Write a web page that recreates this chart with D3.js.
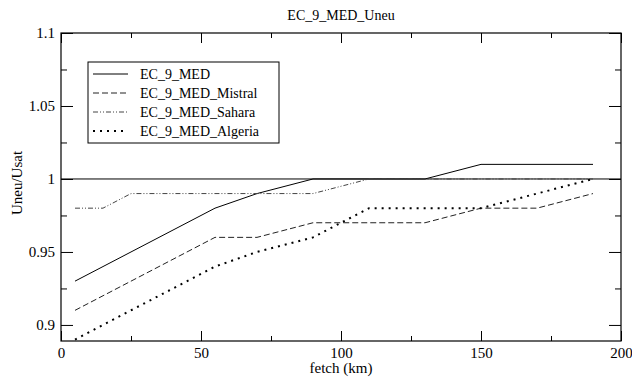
<!DOCTYPE html>
<html>
<head>
<meta charset="utf-8">
<script src="https://cdn.jsdelivr.net/npm/d3@7"></script>
<style>
  body { margin: 0; background: #fff; }
</style>
</head>
<body>
<div id="chart"></div>
<script>
const seriesNames = ["EC_9_MED", "EC_9_MED_Mistral", "EC_9_MED_Sahara", "EC_9_MED_Algeria"];
const medPts = [[5, 0.93], [55, 0.98], [70, 0.99], [90, 1.0], [130, 1.0], [150, 1.01], [190, 1.01]];
const mistralPts = [[5, 0.91], [55, 0.96], [70, 0.96], [90, 0.97], [130, 0.97], [150, 0.98], [170, 0.98], [190, 0.99]];
const saharaPts = [[5, 0.98], [15, 0.98], [25, 0.99], [90, 0.99], [110, 1.0], [190, 1.0]];
const algeriaPts = [[5, 0.89], [55, 0.94], [70, 0.95], [90, 0.96], [100, 0.97], [110, 0.98], [150, 0.98], [190, 1.0]];
const xTicks = [0, 50, 100, 150, 200];
const yTicks = [0.9, 0.95, 1, 1.05, 1.1];
const refValue = 1;

const FONT = "'Liberation Serif'";
const width = 632, height = 380;
const margin = { top: 33, right: 11, bottom: 39, left: 61 };
const w = width - margin.left - margin.right;
const h = height - margin.top - margin.bottom;

const svg = d3.select("#chart").append("svg")
  .attr("width", width)
  .attr("height", height);

const g = svg.append("g")
  .attr("transform", "translate(" + margin.left + "," + margin.top + ")");

const x = d3.scaleLinear().domain([0, 200]).range([0, w]);
const y = d3.scaleLinear().domain([0.889, 1.1]).range([h, 0]);

// minor ticks
const xMinor = [25, 75, 125, 175];
const yMinor = [0.925, 0.975, 1.025, 1.075];

g.append("g")
  .attr("transform", "translate(0," + h + ")")
  .call(d3.axisBottom(x).tickValues(xTicks).tickSize(-10).tickPadding(6).tickFormat(d3.format("d")))
  .call(a => a.select(".domain").remove());
g.append("g")
  .attr("transform", "translate(0," + h + ")")
  .call(d3.axisBottom(x).tickValues(xMinor).tickSize(-5).tickFormat(""))
  .call(a => a.select(".domain").remove());
g.append("g")
  .call(d3.axisTop(x).tickValues(xTicks).tickSize(-10).tickFormat(""))
  .call(a => a.select(".domain").remove());
g.append("g")
  .call(d3.axisTop(x).tickValues(xMinor).tickSize(-5).tickFormat(""))
  .call(a => a.select(".domain").remove());

g.append("g")
  .call(d3.axisLeft(y).tickValues(yTicks).tickSize(-12).tickPadding(6).tickFormat(d => String(+d.toFixed(2))))
  .call(a => a.select(".domain").remove());
g.append("g")
  .call(d3.axisLeft(y).tickValues(yMinor).tickSize(-6).tickFormat(""))
  .call(a => a.select(".domain").remove());
g.append("g")
  .attr("transform", "translate(" + w + ",0)")
  .call(d3.axisRight(y).tickValues(yTicks).tickSize(-12).tickFormat(""))
  .call(a => a.select(".domain").remove());
g.append("g")
  .attr("transform", "translate(" + w + ",0)")
  .call(d3.axisRight(y).tickValues(yMinor).tickSize(-6).tickFormat(""))
  .call(a => a.select(".domain").remove());

g.selectAll(".tick line").attr("stroke", "#000");
g.selectAll(".tick text").attr("font-size", 15).style("font-family", FONT).attr("fill", "#000");

// frame
g.append("rect")
  .attr("x", 0).attr("y", 0).attr("width", w).attr("height", h)
  .attr("fill", "none").attr("stroke", "#000").attr("stroke-width", 1.2);

// reference line
g.append("line")
  .attr("x1", 0).attr("x2", w)
  .attr("y1", y(refValue)).attr("y2", y(refValue))
  .attr("stroke", "#000").attr("stroke-width", 1);

const styles = [
  { dash: null, width: 1, color: "#000" },
  { dash: "6,3", width: 1, color: "#222" },
  { dash: "5,2,1,2,1,2", width: 1, color: "#444" },
  { dash: "2,5", width: 2, color: "#000" }
];
const allSeries = [medPts, mistralPts, saharaPts, algeriaPts];

const line = d3.line().x(d => x(d[0])).y(d => y(d[1]));

allSeries.forEach((pts, i) => {
  g.append("path")
    .datum(pts)
    .attr("d", line)
    .attr("fill", "none")
    .attr("stroke", styles[i].color)
    .attr("stroke-width", styles[i].width)
    .attr("stroke-dasharray", styles[i].dash);
});

// legend
const lg = g.append("g").attr("transform", "translate(27,29)");
lg.append("rect")
  .attr("width", 191).attr("height", 81)
  .attr("fill", "#fff").attr("stroke", "#000").attr("stroke-width", 1);
seriesNames.forEach((name, i) => {
  const yy = 12 + i * 19;
  lg.append("line")
    .attr("x1", 5).attr("x2", 40)
    .attr("y1", yy).attr("y2", yy)
    .attr("stroke", styles[i].color)
    .attr("stroke-width", styles[i].width)
    .attr("stroke-dasharray", styles[i].dash);
  lg.append("text")
    .attr("x", 52).attr("y", yy + 5)
    .attr("font-size", 14)
    .style("font-family", FONT)
    .text(name);
});

// title and labels
svg.append("text")
  .attr("x", margin.left + w / 2).attr("y", 20)
  .attr("text-anchor", "middle")
  .attr("font-size", 14)
  .style("font-family", FONT)
  .text("EC_9_MED_Uneu");

svg.append("text")
  .attr("x", margin.left + w / 2).attr("y", 373)
  .attr("text-anchor", "middle")
  .attr("font-size", 15)
  .style("font-family", FONT)
  .text("fetch (km)");

svg.append("text")
  .attr("transform", "translate(22,183) rotate(-90)")
  .attr("text-anchor", "middle")
  .attr("font-size", 15)
  .style("font-family", FONT)
  .text("Uneu/Usat");
</script>
</body>
</html>
